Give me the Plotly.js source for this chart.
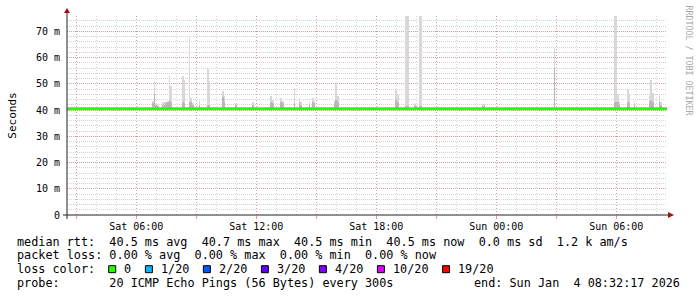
<!DOCTYPE html>
<html><head><meta charset="utf-8">
<script src="https://cdn.plot.ly/plotly-3.0.1.min.js"></script>
<style>html,body{margin:0;padding:0;background:#fff}#chart{width:697px;height:297px}</style>
</head><body><div id="chart"></div>
<script>
// ---------- data ----------
const startTime = '2026-01-03 02:32:17';
const endTime = '2026-01-04 08:32:17';

const medianTimes = [startTime, endTime];
const medianValues = [40.5, 40.5];   // ms

const smokeBase = 40.5;
const smokeTimes = [
  '2026-01-03 06:50','2026-01-03 06:55','2026-01-03 07:00','2026-01-03 07:05',
  '2026-01-03 07:20','2026-01-03 07:25','2026-01-03 07:30','2026-01-03 07:35',
  '2026-01-03 07:40','2026-01-03 07:45','2026-01-03 08:20','2026-01-03 08:25',
  '2026-01-03 08:40','2026-01-03 08:45','2026-01-03 08:50','2026-01-03 09:10',
  '2026-01-03 09:35','2026-01-03 09:40','2026-01-03 10:20','2026-01-03 10:25',
  '2026-01-03 11:00','2026-01-03 11:50','2026-01-03 12:45','2026-01-03 12:50',
  '2026-01-03 13:15','2026-01-03 13:20','2026-01-03 13:55','2026-01-03 14:10',
  '2026-01-03 14:15','2026-01-03 14:40','2026-01-03 14:50','2026-01-03 14:55',
  '2026-01-03 15:55','2026-01-03 16:00','2026-01-03 16:05','2026-01-03 19:00',
  '2026-01-03 19:05','2026-01-03 19:30','2026-01-03 19:35','2026-01-03 19:55',
  '2026-01-03 20:00','2026-01-03 20:10','2026-01-03 20:15','2026-01-03 21:05',
  '2026-01-03 23:20','2026-01-03 23:25','2026-01-04 02:55','2026-01-04 05:55',
  '2026-01-04 06:00','2026-01-04 06:05','2026-01-04 06:10','2026-01-04 06:35',
  '2026-01-04 06:40','2026-01-04 06:55','2026-01-04 07:40','2026-01-04 07:45',
  '2026-01-04 07:50','2026-01-04 08:10','2026-01-04 08:15'
];
const smokeMax = [
  43.5, 51.0, 42.5, 42.0,
  43.0, 43.0, 43.0, 43.5,
  53.0, 49.0, 52.8, 51.3,
  67.3, 44.7, 42.5, 43.5,
  55.5, 51.0, 47.2, 45.3,
  42.5, 43.0, 45.3, 43.8,
  44.7, 43.4, 48.3, 44.7,
  43.0, 43.1, 44.7, 43.5,
  43.5, 49.8, 45.3, 47.5,
  45.6, 76.0, 76.0, 42.5,
  42.0, 76.0, 76.0, 41.0,
  42.2, 42.2, 63.6, 76.0,
  76.0, 46.3, 43.2, 48.0,
  45.8, 43.4, 45.3, 51.3,
  46.5, 46.0, 43.0
];
const smokeMid = [
  42.5, 46.0, 42.0, 41.5,
  42.0, 42.0, 42.5, 43.0,
  44.0, 43.0, 43.0, 42.5,
  43.0, 43.0, 42.0, 42.0,
  42.0, 42.0, 45.0, 43.0,
  42.0, 42.0, 43.0, 42.5,
  43.0, 42.5, 43.0, 43.0,
  42.0, 42.0, 43.0, 42.5,
  42.5, 44.0, 43.0, 44.0,
  43.0, 41.5, 41.5, 41.5,
  41.5, 41.5, 41.5, 40.8,
  41.5, 41.5, 56.0, 43.0,
  43.0, 43.0, 42.0, 43.0,
  42.5, 42.0, 43.0, 44.0,
  43.0, 43.0, 42.0
];

const yTickValues = [0, 10, 20, 30, 40, 50, 60, 70];
const yTickLabels = ['0', '10 m', '20 m', '30 m', '40 m', '50 m', '60 m', '70 m'];
const xMajorTimes = ['2026-01-03 03:00','2026-01-03 06:00','2026-01-03 09:00','2026-01-03 12:00',
  '2026-01-03 15:00','2026-01-03 18:00','2026-01-03 21:00','2026-01-04 00:00',
  '2026-01-04 03:00','2026-01-04 06:00'];
const xLabelTimes = ['2026-01-03 06:00','2026-01-03 12:00','2026-01-03 18:00','2026-01-04 00:00','2026-01-04 06:00'];
const xTickLabels = ['Sat 06:00','Sat 12:00','Sat 18:00','Sun 00:00','Sun 06:00'];

const lossLabels = ['0', '1/20', '2/20', '3/20', '4/20', '10/20', '19/20'];
const lossColors = ['#26ff00', '#00b8ff', '#0059ff', '#5e00ff', '#7e00ff', '#dd00ff', '#ff0000'];

const rttLine = 'median rtt:  40.5 ms avg  40.7 ms max  40.5 ms min  40.5 ms now  0.0 ms sd  1.2 k am/s';
const lossLine = 'packet loss: 0.00 % avg  0.00 % max  0.00 % min  0.00 % now';
const colorLine = 'loss color:';
const probeLine = 'probe:       20 ICMP Echo Pings (56 Bytes) every 300s';
const endLine = 'end: Sun Jan  4 08:32:17 2026';
const sideText = 'RRDTOOL / TOBI OETIKER';

// ---------- layout helpers ----------
const W = 697, H = 297, L = 67, R = 667, T = 16, B = 215;
const px = x => (x - L) / (R - L);
const py = y => (B - y) / (B - T);
const nb = s => s.replace(/ /g, '\u00a0');
const MONO = 'DejaVu Sans Mono';
const CH = 7.1;

const traces = [
  {
    type: 'bar', x: smokeTimes, y: smokeMax.map(v => v - smokeBase), base: smokeBase,
    width: 330000, marker: {color: '#d8d8d8', line: {width: 0}}, hoverinfo: 'skip', showlegend: false
  },
  {
    type: 'bar', x: smokeTimes, y: smokeMid.map(v => v - smokeBase), base: smokeBase,
    width: 330000, marker: {color: '#b8b8b8', line: {width: 0}}, hoverinfo: 'skip', showlegend: false
  },
  {
    type: 'scatter', mode: 'lines', x: medianTimes, y: medianValues,
    line: {color: lossColors[0], width: 3}, hoverinfo: 'skip', showlegend: false
  }
];

const legendRows = [
  {text: rttLine, y: 241.7},
  {text: lossLine, y: 255.3},
  {text: colorLine, y: 269},
  {text: probeLine, y: 282.7}
];
const annotations = legendRows.map(r => ({
  xref: 'paper', yref: 'paper', x: px(16), y: py(r.y), xanchor: 'left', yanchor: 'middle',
  text: nb(r.text), showarrow: false, borderpad: 0, font: {family: MONO, size: 11.8, color: '#000'}
}));
annotations.push({
  xref: 'paper', yref: 'paper', x: px(681), y: py(282.7), xanchor: 'right', yanchor: 'middle',
  text: nb(endLine), showarrow: false, borderpad: 0, font: {family: MONO, size: 11.8, color: '#000'}
});
annotations.push({
  xref: 'paper', yref: 'paper', x: px(688.5), y: py(60), xanchor: 'center', yanchor: 'middle',
  text: nb(sideText), textangle: 90, showarrow: false, borderpad: 0,
  font: {family: MONO, size: 8.3, color: '#a8a8a8'}
});

const shapes = [];
let bx = 108.7;
lossLabels.forEach((lab, i) => {
  shapes.push({type: 'rect', xref: 'paper', yref: 'paper', x0: px(bx), x1: px(bx + 7), y0: py(272.7), y1: py(265.7),
    fillcolor: lossColors[i], line: {color: '#000', width: 1}});
  const tx = bx + 14.6;
  annotations.push({xref: 'paper', yref: 'paper', x: px(tx), y: py(269), xanchor: 'left', yanchor: 'middle',
    text: nb(lab), showarrow: false, borderpad: 0, font: {family: MONO, size: 11.8, color: '#000'}});
  bx = tx + lab.length * CH + 15;
});
// axes with arrows
shapes.push({type: 'line', xref: 'paper', yref: 'paper', x0: px(63), x1: px(669), y0: 0, y1: 0, line: {color: '#222', width: 1}});
shapes.push({type: 'line', xref: 'paper', yref: 'paper', x0: 0, x1: 0, y0: py(219), y1: py(12), line: {color: '#222', width: 1}});
shapes.push({type: 'path', xref: 'paper', yref: 'paper',
  path: `M ${px(64)} ${py(13)} L ${px(67)} ${py(8)} L ${px(70)} ${py(13)} Z`, fillcolor: '#a01010', line: {width: 0}});
shapes.push({type: 'path', xref: 'paper', yref: 'paper',
  path: `M ${px(668)} ${py(212)} L ${px(674)} ${py(215)} L ${px(668)} ${py(218)} Z`, fillcolor: '#a01010', line: {width: 0}});

const majorGrid = 'rgba(222,80,80,0.42)';
const minorGrid = 'rgba(143,143,143,0.38)';

const layout = {
  width: W, height: H,
  margin: {l: L, r: W - R, t: T, b: H - B, pad: 0},
  paper_bgcolor: '#ffffff', plot_bgcolor: '#ffffff',
  barmode: 'overlay', bargap: 0,
  showlegend: false,
  font: {family: MONO, size: 10, color: '#000'},
  xaxis: {
    type: 'date', range: [startTime, endTime],
    tickmode: 'array', tickvals: xMajorTimes,
    ticktext: xMajorTimes.map(t => { const k = xLabelTimes.indexOf(t); return k >= 0 ? xTickLabels[k] : ''; }),
    ticks: 'outside', ticklen: 3, tickcolor: 'rgba(222,80,80,0.6)', tickwidth: 1,
    showgrid: true, gridcolor: majorGrid, griddash: '1px,2px', gridwidth: 1,
    minor: {dtick: 3600000, tick0: '2026-01-03 00:00', showgrid: true, gridcolor: minorGrid, griddash: '1px,2px', gridwidth: 1},
    zeroline: false, showline: false, fixedrange: true,
    tickfont: {family: MONO, size: 10, color: '#000'}, ticklabelstandoff: -1
  },
  yaxis: {
    range: [0, (B - T) / 2.624],
    tickmode: 'array', tickvals: yTickValues, ticktext: yTickLabels,
    ticks: '', showgrid: true, gridcolor: majorGrid, griddash: '1px,1px', gridwidth: 1,
    minor: {dtick: 2, tick0: 0, showgrid: true, gridcolor: minorGrid, griddash: '1px,1px', gridwidth: 1},
    zeroline: false, showline: false, fixedrange: true,
    tickfont: {family: MONO, size: 10, color: '#000'}, ticklabelstandoff: 6,
    title: {text: 'Seconds', font: {family: MONO, size: 11, color: '#000'}, standoff: 17}
  },
  shapes: shapes,
  annotations: annotations
};

Plotly.newPlot('chart', traces, layout, {staticPlot: true, displayModeBar: false});
</script>
</body></html>
